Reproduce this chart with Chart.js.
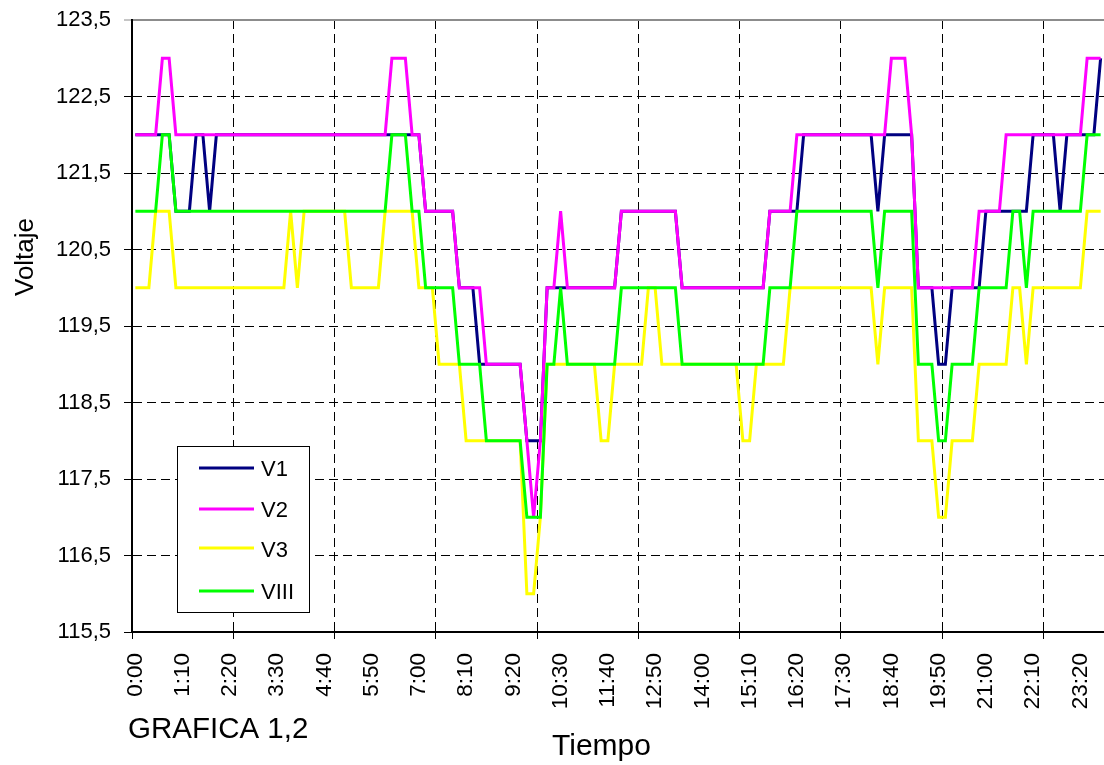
<!DOCTYPE html>
<html><head><meta charset="utf-8">
<script src="https://cdn.jsdelivr.net/npm/chart.js@4.4.1/dist/chart.umd.min.js"></script>
<style>html,body{margin:0;padding:0;background:#fff;}canvas{display:block;}</style>
</head><body>
<canvas id="c" width="1104" height="765" style="width:1104px;height:765px"></canvas>
<script>
// Categories: one reading every 10 minutes, 0:00 .. 23:50
const categories = [];
for (let h = 0; h < 24; h++) { for (let m = 0; m < 60; m += 10) { categories.push(h + ':' + String(m).padStart(2, '0')); } }

const xTickLabels = ['0:00','1:10','2:20','3:30','4:40','5:50','7:00','8:10','9:20','10:30','11:40','12:50','14:00','15:10','16:20','17:30','18:40','19:50','21:00','22:10','23:20'];
const yTicks = [115.5,116.5,117.5,118.5,119.5,120.5,121.5,122.5,123.5];
const yTickLabels = ['115,5','116,5','117,5','118,5','119,5','120,5','121,5','122,5','123,5'];

const V1 = [
122,122,122,122,122,122,121,121,121,122,122,121,122,122,122,122,122,122,122,122,
122,122,122,122,122,122,122,122,122,122,122,122,122,122,122,122,122,122,122,122,
122,122,122,121,121,121,121,121,120,120,120,119,119,119,119,119,119,119,118,118,
118,120,120,120,120,120,120,120,120,120,120,120,121,121,121,121,121,121,121,121,
121,120,120,120,120,120,120,120,120,120,120,120,120,120,121,121,121,121,121,122,
122,122,122,122,122,122,122,122,122,122,121,122,122,122,122,122,120,120,120,119,
119,120,120,120,120,120,121,121,121,121,121,121,121,122,122,122,122,121,122,122,
122,122,122,123];
const V2 = [
122,122,122,122,123,123,122,122,122,122,122,122,122,122,122,122,122,122,122,122,
122,122,122,122,122,122,122,122,122,122,122,122,122,122,122,122,122,122,123,123,
123,122,122,121,121,121,121,121,120,120,120,120,119,119,119,119,119,119,118,117,
118,120,120,121,120,120,120,120,120,120,120,120,121,121,121,121,121,121,121,121,
121,120,120,120,120,120,120,120,120,120,120,120,120,120,121,121,121,121,122,122,
122,122,122,122,122,122,122,122,122,122,122,122,123,123,123,122,120,120,120,120,
120,120,120,120,120,121,121,121,121,122,122,122,122,122,122,122,122,122,122,122,
122,123,123,123];
const V3 = [
120,120,120,121,121,121,120,120,120,120,120,120,120,120,120,120,120,120,120,120,
120,120,120,121,120,121,121,121,121,121,121,121,120,120,120,120,120,121,121,121,
121,121,120,120,120,119,119,119,119,118,118,118,118,118,118,118,118,118,116,116,
117,119,119,119,119,119,119,119,119,118,118,119,119,119,119,119,120,120,119,119,
119,119,119,119,119,119,119,119,119,119,118,118,119,119,119,119,119,120,120,120,
120,120,120,120,120,120,120,120,120,120,119,120,120,120,120,120,118,118,118,117,
117,118,118,118,118,119,119,119,119,119,120,120,119,120,120,120,120,120,120,120,
120,121,121,121];
const VIII = [
121,121,121,121,122,122,121,121,121,121,121,121,121,121,121,121,121,121,121,121,
121,121,121,121,121,121,121,121,121,121,121,121,121,121,121,121,121,121,122,122,
122,121,121,120,120,120,120,120,119,119,119,119,118,118,118,118,118,118,117,117,
117,119,119,120,119,119,119,119,119,119,119,119,120,120,120,120,120,120,120,120,
120,119,119,119,119,119,119,119,119,119,119,119,119,119,120,120,120,120,121,121,
121,121,121,121,121,121,121,121,121,121,120,121,121,121,121,121,119,119,119,118,
118,119,119,119,119,120,120,120,120,120,121,121,120,121,121,121,121,121,121,121,
121,122,122,122];

const FONT = '"Liberation Sans", Arial, sans-serif';

const extras = {
  id: 'extras',
  afterDraw(chart) {
    const ctx = chart.ctx;
    ctx.save();
    // legend box
    ctx.fillStyle = '#fff';
    ctx.fillRect(177, 446, 132, 166);
    ctx.strokeStyle = '#000';
    ctx.lineWidth = 1;
    ctx.strokeRect(177.5, 446.5, 132, 166);
    const lineY = [468, 509, 548, 591];
    const baseY = [476, 517, 557, 598.5];
    chart.data.datasets.forEach((ds, k) => {
      ctx.strokeStyle = ds.borderColor;
      ctx.lineWidth = 3;
      ctx.beginPath(); ctx.moveTo(199, lineY[k]); ctx.lineTo(254, lineY[k]); ctx.stroke();
      ctx.fillStyle = '#000';
      ctx.font = '22px ' + FONT;
      ctx.textAlign = 'left'; ctx.textBaseline = 'alphabetic';
      ctx.fillText(ds.label, 261, baseY[k]);
    });
    // axis titles
    ctx.fillStyle = '#000';
    ctx.font = '26px ' + FONT;
    ctx.save();
    ctx.translate(33, 257);
    ctx.rotate(-Math.PI / 2);
    ctx.textAlign = 'center'; ctx.textBaseline = 'alphabetic';
    ctx.fillText('Voltaje', 0, 0);
    ctx.restore();
    ctx.font = '30px ' + FONT;
    ctx.textAlign = 'left';
    ctx.fillText('Tiempo', 552, 755);
    ctx.font = '29.5px ' + FONT;
    ctx.fillText('GRAFICA 1,2', 128, 738);
    ctx.restore();
  }
};

const isTop = c => c.tick && c.tick.value === 123.5;
const isBottom = c => c.tick && c.tick.value === 115.5;

new Chart(document.getElementById('c'), {
  type: 'line',
  data: {
    labels: categories,
    datasets: [
      { label: 'V1', data: V1, borderColor: '#000080', order: 3 },
      { label: 'V2', data: V2, borderColor: '#FF00FF', order: 2 },
      { label: 'V3', data: V3, borderColor: '#FFFF00', order: 1 },
      { label: 'VIII', data: VIII, borderColor: '#00FF00', order: 0 }
    ]
  },
  options: {
    responsive: false,
    animation: false,
    devicePixelRatio: 1,
    layout: { padding: { top: 20, right: 0, left: 0, bottom: 0 } },
    datasets: { line: { borderWidth: 3, pointRadius: 0, tension: 0, fill: false } },
    plugins: { legend: { display: false }, tooltip: { enabled: false } },
    scales: {
      x: {
        type: 'category',
        offset: true,
        afterFit: s => { s.height = 133; s.paddingLeft = 0; s.paddingRight = 0; },
        grid: {
          offset: true,
          color: c => (c.index > 0 && c.index % 15 === 0) ? '#000' : 'rgba(0,0,0,0)',
          lineWidth: 1,
          drawTicks: true,
          tickLength: 7,
          tickColor: c => (c.index !== undefined && c.index % 15 === 0) ? '#000' : 'rgba(0,0,0,0)',
          tickWidth: 1,
          tickBorderDash: []
        },
        border: { display: true, color: '#000', width: 2, dash: [9, 5] },
        ticks: {
          autoSkip: false,
          minRotation: 90,
          maxRotation: 90,
          padding: 14,
          color: '#000',
          font: { size: 22.5, family: FONT },
          callback: (v, i) => (i % 7 === 0 ? xTickLabels[i / 7] : '')
        }
      },
      y: {
        min: 115.5,
        max: 123.5,
        afterBuildTicks: s => { s.ticks = yTicks.map(v => ({ value: v })); },
        afterFit: s => { s.width = 132; s.paddingTop = 0; s.paddingBottom = 0; },
        grid: {
          color: c => isTop(c) ? '#8c8c8c' : (isBottom(c) ? 'rgba(0,0,0,0)' : '#000'),
          lineWidth: c => isTop(c) ? 2 : 1,
          tickLength: 8,
          tickColor: c => isTop(c) ? '#8c8c8c' : '#000',
          tickWidth: 1,
          tickBorderDash: []
        },
        border: { display: true, color: '#000', width: 2, dash: c => isTop(c) ? [] : [9, 5] },
        ticks: {
          padding: 13,
          color: '#000',
          font: { size: 22, family: FONT },
          callback: (v, i) => yTickLabels[yTicks.indexOf(v)]
        }
      }
    }
  },
  plugins: [extras]
});
</script>
</body></html>
